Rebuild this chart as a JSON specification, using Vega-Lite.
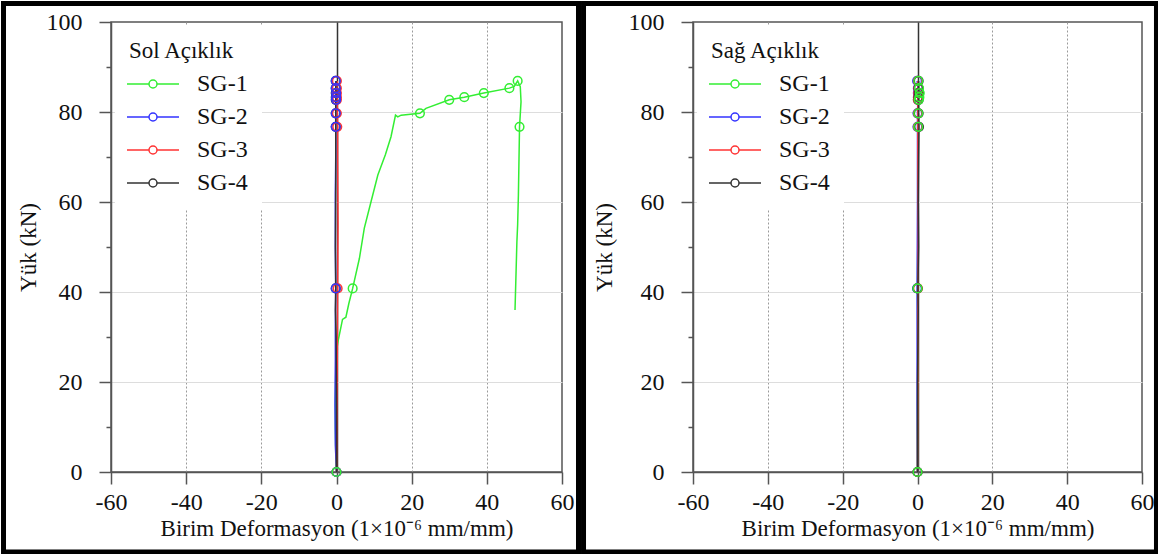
{
  "$schema": "https://vega.github.io/schema/vega-lite/v6.json",
  "padding": 0,
  "background": "white",
  "spacing": 131,
  "bounds": "flush",
  "resolve": {"scale": {"color": "independent"}, "legend": {"color": "independent"}},
  "datasets": {
    "left_lines": [
      {"s": "SG-1", "x": 0, "y": 0}, {"s": "SG-1", "x": -0.2, "y": 4}, {"s": "SG-1", "x": -0.3, "y": 10}, {"s": "SG-1", "x": -0.3, "y": 16}, {"s": "SG-1", "x": -0.2, "y": 22}, {"s": "SG-1", "x": 0, "y": 27}, {"s": "SG-1", "x": 0.5, "y": 29.4}, {"s": "SG-1", "x": 1.6, "y": 33.9}, {"s": "SG-1", "x": 2.5, "y": 34.4}, {"s": "SG-1", "x": 3.3, "y": 37.5}, {"s": "SG-1", "x": 4.3, "y": 40.8}, {"s": "SG-1", "x": 6.1, "y": 47.5}, {"s": "SG-1", "x": 7.4, "y": 54.2}, {"s": "SG-1", "x": 9.2, "y": 60.1}, {"s": "SG-1", "x": 11.0, "y": 66.0}, {"s": "SG-1", "x": 13.0, "y": 70.5}, {"s": "SG-1", "x": 14.5, "y": 74.5}, {"s": "SG-1", "x": 15.7, "y": 79.3}, {"s": "SG-1", "x": 16.3, "y": 78.9}, {"s": "SG-1", "x": 17.2, "y": 79.3}, {"s": "SG-1", "x": 22.2, "y": 79.7}, {"s": "SG-1", "x": 23.8, "y": 80.8}, {"s": "SG-1", "x": 30.0, "y": 82.7}, {"s": "SG-1", "x": 34.0, "y": 83.3}, {"s": "SG-1", "x": 39.2, "y": 84.2}, {"s": "SG-1", "x": 46.0, "y": 85.3}, {"s": "SG-1", "x": 47.3, "y": 85.7}, {"s": "SG-1", "x": 48.2, "y": 86.9}, {"s": "SG-1", "x": 48.9, "y": 85.6}, {"s": "SG-1", "x": 49.1, "y": 82.3}, {"s": "SG-1", "x": 48.7, "y": 76.7}, {"s": "SG-1", "x": 48.4, "y": 61.6}, {"s": "SG-1", "x": 48.2, "y": 55}, {"s": "SG-1", "x": 48.0, "y": 51.2}, {"s": "SG-1", "x": 47.5, "y": 36},
      {"s": "SG-2", "x": 0, "y": 0}, {"s": "SG-2", "x": -0.3, "y": 6}, {"s": "SG-2", "x": -0.4, "y": 15}, {"s": "SG-2", "x": -0.3, "y": 25}, {"s": "SG-2", "x": -0.3, "y": 33}, {"s": "SG-2", "x": -0.2, "y": 40.8}, {"s": "SG-2", "x": -0.3, "y": 50}, {"s": "SG-2", "x": -0.3, "y": 62}, {"s": "SG-2", "x": -0.2, "y": 70}, {"s": "SG-2", "x": -0.2, "y": 76.7}, {"s": "SG-2", "x": -0.2, "y": 79.7}, {"s": "SG-2", "x": -0.1, "y": 82.7}, {"s": "SG-2", "x": -0.2, "y": 83.3}, {"s": "SG-2", "x": -0.1, "y": 84.2}, {"s": "SG-2", "x": -0.2, "y": 85.3}, {"s": "SG-2", "x": -0.2, "y": 86.9},
      {"s": "SG-3", "x": 0, "y": 0}, {"s": "SG-3", "x": 0.1, "y": 12}, {"s": "SG-3", "x": 0.2, "y": 25}, {"s": "SG-3", "x": 0.3, "y": 40.8}, {"s": "SG-3", "x": 0.4, "y": 55}, {"s": "SG-3", "x": 0.3, "y": 70}, {"s": "SG-3", "x": 0.3, "y": 76.7}, {"s": "SG-3", "x": 0.2, "y": 79.7}, {"s": "SG-3", "x": 0.2, "y": 82.7}, {"s": "SG-3", "x": 0.1, "y": 83.3}, {"s": "SG-3", "x": 0.1, "y": 84.2}, {"s": "SG-3", "x": 0.1, "y": 85.3}, {"s": "SG-3", "x": 0.2, "y": 86.9},
      {"s": "SG-4", "x": 0, "y": 0}, {"s": "SG-4", "x": 0, "y": 15}, {"s": "SG-4", "x": -0.1, "y": 30}, {"s": "SG-4", "x": -0.3, "y": 36}, {"s": "SG-4", "x": -0.2, "y": 40.8}, {"s": "SG-4", "x": -0.3, "y": 50}, {"s": "SG-4", "x": -0.2, "y": 65}, {"s": "SG-4", "x": -0.2, "y": 76.7}, {"s": "SG-4", "x": -0.2, "y": 79.7}, {"s": "SG-4", "x": -0.2, "y": 82.7}, {"s": "SG-4", "x": -0.1, "y": 83.3}, {"s": "SG-4", "x": -0.1, "y": 84.2}, {"s": "SG-4", "x": -0.2, "y": 85.3}, {"s": "SG-4", "x": -0.1, "y": 86.9}
    ],
    "left_pts": [
      {"s": "SG-4", "x": 0, "y": 0}, {"s": "SG-4", "x": -0.2, "y": 40.8}, {"s": "SG-4", "x": -0.2, "y": 76.7}, {"s": "SG-4", "x": -0.2, "y": 79.7}, {"s": "SG-4", "x": -0.2, "y": 82.7}, {"s": "SG-4", "x": -0.2, "y": 83.3}, {"s": "SG-4", "x": -0.2, "y": 84.2}, {"s": "SG-4", "x": -0.2, "y": 85.3}, {"s": "SG-4", "x": -0.2, "y": 86.9},
      {"s": "SG-3", "x": 0, "y": 0}, {"s": "SG-3", "x": 0.3, "y": 40.8}, {"s": "SG-3", "x": 0.2, "y": 76.7}, {"s": "SG-3", "x": 0.1, "y": 79.7}, {"s": "SG-3", "x": 0.1, "y": 82.7}, {"s": "SG-3", "x": 0.1, "y": 83.3}, {"s": "SG-3", "x": 0.1, "y": 84.2}, {"s": "SG-3", "x": 0.1, "y": 85.3}, {"s": "SG-3", "x": 0.1, "y": 86.9},
      {"s": "SG-2", "x": 0, "y": 0}, {"s": "SG-2", "x": -0.2, "y": 40.8}, {"s": "SG-2", "x": -0.2, "y": 76.7}, {"s": "SG-2", "x": -0.2, "y": 79.7}, {"s": "SG-2", "x": -0.1, "y": 82.7}, {"s": "SG-2", "x": -0.1, "y": 83.3}, {"s": "SG-2", "x": -0.1, "y": 84.2}, {"s": "SG-2", "x": -0.2, "y": 85.3}, {"s": "SG-2", "x": -0.2, "y": 86.9},
      {"s": "SG-1", "x": 0, "y": 0}, {"s": "SG-1", "x": 4.3, "y": 40.8}, {"s": "SG-1", "x": 22.2, "y": 79.7}, {"s": "SG-1", "x": 30.0, "y": 82.7}, {"s": "SG-1", "x": 34.0, "y": 83.3}, {"s": "SG-1", "x": 39.2, "y": 84.2}, {"s": "SG-1", "x": 46.0, "y": 85.3}, {"s": "SG-1", "x": 48.2, "y": 86.9}, {"s": "SG-1", "x": 48.7, "y": 76.7}
    ],
    "right_lines": [
      {"s": "SG-1", "x": 0, "y": 0}, {"s": "SG-1", "x": 0, "y": 10}, {"s": "SG-1", "x": 0.1, "y": 25}, {"s": "SG-1", "x": 0, "y": 40.8}, {"s": "SG-1", "x": 0.1, "y": 55}, {"s": "SG-1", "x": 0.2, "y": 70}, {"s": "SG-1", "x": 0.2, "y": 76.7}, {"s": "SG-1", "x": 0.2, "y": 79.7}, {"s": "SG-1", "x": 0.3, "y": 82.7}, {"s": "SG-1", "x": 0.5, "y": 83.3}, {"s": "SG-1", "x": 0.6, "y": 84.2}, {"s": "SG-1", "x": 0.4, "y": 85.3}, {"s": "SG-1", "x": 0.2, "y": 86.9},
      {"s": "SG-2", "x": 0, "y": 0}, {"s": "SG-2", "x": -0.1, "y": 15}, {"s": "SG-2", "x": -0.1, "y": 30}, {"s": "SG-2", "x": -0.1, "y": 40.8}, {"s": "SG-2", "x": 0, "y": 60}, {"s": "SG-2", "x": 0, "y": 76.7}, {"s": "SG-2", "x": 0, "y": 79.7}, {"s": "SG-2", "x": 0.1, "y": 82.7}, {"s": "SG-2", "x": 0.1, "y": 83.3}, {"s": "SG-2", "x": 0.1, "y": 84.2}, {"s": "SG-2", "x": 0.1, "y": 85.3}, {"s": "SG-2", "x": -0.1, "y": 86.9},
      {"s": "SG-3", "x": 0, "y": 0}, {"s": "SG-3", "x": 0.1, "y": 20}, {"s": "SG-3", "x": 0.1, "y": 40.8}, {"s": "SG-3", "x": 0.2, "y": 52}, {"s": "SG-3", "x": 0.1, "y": 65}, {"s": "SG-3", "x": 0.1, "y": 76.7}, {"s": "SG-3", "x": 0.1, "y": 79.7}, {"s": "SG-3", "x": 0.1, "y": 82.7}, {"s": "SG-3", "x": 0.2, "y": 83.3}, {"s": "SG-3", "x": 0.2, "y": 84.2}, {"s": "SG-3", "x": 0.2, "y": 85.3}, {"s": "SG-3", "x": 0.1, "y": 86.9},
      {"s": "SG-4", "x": 0, "y": 0}, {"s": "SG-4", "x": 0, "y": 20}, {"s": "SG-4", "x": 0.2, "y": 36}, {"s": "SG-4", "x": 0.1, "y": 40.8}, {"s": "SG-4", "x": 0.3, "y": 50}, {"s": "SG-4", "x": 0.2, "y": 60}, {"s": "SG-4", "x": 0.3, "y": 70}, {"s": "SG-4", "x": 0.4, "y": 76.7}, {"s": "SG-4", "x": 0.3, "y": 79.7}, {"s": "SG-4", "x": 0.3, "y": 82.7}, {"s": "SG-4", "x": 0.3, "y": 83.3}, {"s": "SG-4", "x": 0.4, "y": 84.2}, {"s": "SG-4", "x": 0.3, "y": 85.3}, {"s": "SG-4", "x": 0.3, "y": 86.9}
    ],
    "right_pts": [
      {"s": "SG-2", "x": 0, "y": 0}, {"s": "SG-2", "x": -0.1, "y": 40.8}, {"s": "SG-2", "x": 0, "y": 76.7}, {"s": "SG-2", "x": 0, "y": 79.7}, {"s": "SG-2", "x": 0.1, "y": 82.7}, {"s": "SG-2", "x": 0.1, "y": 83.3}, {"s": "SG-2", "x": 0.1, "y": 84.2}, {"s": "SG-2", "x": 0.1, "y": 85.3}, {"s": "SG-2", "x": -0.1, "y": 86.9},
      {"s": "SG-3", "x": 0, "y": 0}, {"s": "SG-3", "x": 0.1, "y": 40.8}, {"s": "SG-3", "x": 0.1, "y": 76.7}, {"s": "SG-3", "x": 0.1, "y": 79.7}, {"s": "SG-3", "x": 0.1, "y": 82.7}, {"s": "SG-3", "x": 0.2, "y": 83.3}, {"s": "SG-3", "x": 0.2, "y": 84.2}, {"s": "SG-3", "x": 0.2, "y": 85.3}, {"s": "SG-3", "x": 0.1, "y": 86.9},
      {"s": "SG-4", "x": 0, "y": 0}, {"s": "SG-4", "x": 0, "y": 40.8}, {"s": "SG-4", "x": 0.4, "y": 76.7}, {"s": "SG-4", "x": 0.3, "y": 79.7}, {"s": "SG-4", "x": 0.3, "y": 82.7}, {"s": "SG-4", "x": 0.3, "y": 83.3}, {"s": "SG-4", "x": 0.4, "y": 84.2}, {"s": "SG-4", "x": 0.3, "y": 85.3}, {"s": "SG-4", "x": 0.3, "y": 86.9},
      {"s": "SG-1", "x": 0, "y": 0}, {"s": "SG-1", "x": 0, "y": 40.8}, {"s": "SG-1", "x": 0.2, "y": 76.7}, {"s": "SG-1", "x": 0.2, "y": 79.7}, {"s": "SG-1", "x": 0.3, "y": 82.7}, {"s": "SG-1", "x": 0.5, "y": 83.3}, {"s": "SG-1", "x": 0.6, "y": 84.2}, {"s": "SG-1", "x": 0.4, "y": 85.3}, {"s": "SG-1", "x": 0.2, "y": 86.9}
    ]
  },
  "hconcat": [
    {
      "width": 451,
      "height": 450,
      "layer": [
        {
          "data": {"values": [{}]},
          "mark": {"type": "rect", "clip": false, "fill": "white", "fillOpacity": 0, "stroke": "black", "strokeWidth": 5},
          "encoding": {
            "x": {"datum": -88.6, "type": "quantitative"},
            "x2": {"datum": 64.39},
            "y": {"datum": 104.11, "type": "quantitative"},
            "y2": {"datum": -17.78}
          }
        },
        {
          "data": {"name": "left_lines"},
          "mark": {"type": "line", "strokeWidth": 1.5},
          "encoding": {
            "x": {"field": "x", "type": "quantitative", "scale": {"domain": [-60, 60], "nice": false, "zero": false},
              "axis": {"title": "Birim Deformasyon (1×10⁻⁶ mm/mm)", "values": [-60, -50, -40, -30, -20, -10, 0, 10, 20, 30, 40, 50, 60],
                "labelExpr": "datum.value % 20 === 0 ? '' + datum.value : ''",
                "tickSize": {"condition": {"test": "datum.value % 20 !== 0", "value": 5}, "value": 12},
                "gridOpacity": {"condition": {"test": "datum.value % 20 !== 0 || abs(datum.value) === 60", "value": 0}, "value": 1},
                "gridDash": {"condition": {"test": "datum.value === 0", "value": []}, "value": [2, 2]},
                "gridColor": {"condition": {"test": "datum.value === 0", "value": "#333333"}, "value": "#9a9a9a"},
                "gridWidth": {"condition": {"test": "datum.value === 0", "value": 1.5}, "value": 1},
                "labelPadding": 6, "titlePadding": 3, "labelOverlap": false, "labelFlush": false}},
            "y": {"field": "y", "type": "quantitative", "scale": {"domain": [0, 100], "nice": false},
              "axis": {"title": "Yük (kN)", "values": [0, 10, 20, 30, 40, 50, 60, 70, 80, 90, 100],
                "labelExpr": "datum.value % 20 === 0 ? '' + datum.value : ''",
                "tickSize": {"condition": {"test": "datum.value % 20 !== 0", "value": 5}, "value": 12},
                "gridOpacity": {"condition": {"test": "datum.value % 20 !== 0 || datum.value === 0 || datum.value === 100", "value": 0}, "value": 1},
                "labelPadding": 17, "titlePadding": 6, "labelOverlap": false, "labelFlush": false}},
            "color": {"field": "s", "type": "nominal", "title": "Sol Açıklık",
              "scale": {"domain": ["SG-1", "SG-2", "SG-3", "SG-4"], "range": ["#33ee33", "#3333ff", "#ff3333", "#333333"]}},
            "order": {"value": null}
          }
        },
        {
          "data": {"name": "left_pts"},
          "mark": {"type": "point", "shape": "circle", "filled": false, "size": 75, "strokeWidth": 1.5, "opacity": 1},
          "encoding": {
            "x": {"field": "x", "type": "quantitative"},
            "y": {"field": "y", "type": "quantitative"},
            "color": {"field": "s", "type": "nominal"}
          }
        }
      ]
    },
    {
      "width": 449,
      "height": 450,
      "layer": [
        {
          "data": {"values": [{}]},
          "mark": {"type": "rect", "clip": false, "fill": "white", "fillOpacity": 0, "stroke": "black", "strokeWidth": 5},
          "encoding": {
            "x": {"datum": -89.26, "type": "quantitative"},
            "x2": {"datum": 63.87},
            "y": {"datum": 104.11, "type": "quantitative"},
            "y2": {"datum": -17.78}
          }
        },
        {
          "data": {"name": "right_lines"},
          "mark": {"type": "line", "strokeWidth": 1.5},
          "encoding": {
            "x": {"field": "x", "type": "quantitative", "scale": {"domain": [-60, 60], "nice": false, "zero": false},
              "axis": {"title": "Birim Deformasyon (1×10⁻⁶ mm/mm)", "values": [-60, -50, -40, -30, -20, -10, 0, 10, 20, 30, 40, 50, 60],
                "labelExpr": "datum.value % 20 === 0 ? '' + datum.value : ''",
                "tickSize": {"condition": {"test": "datum.value % 20 !== 0", "value": 5}, "value": 12},
                "gridOpacity": {"condition": {"test": "datum.value % 20 !== 0 || abs(datum.value) === 60", "value": 0}, "value": 1},
                "gridDash": {"condition": {"test": "datum.value === 0", "value": []}, "value": [2, 2]},
                "gridColor": {"condition": {"test": "datum.value === 0", "value": "#333333"}, "value": "#9a9a9a"},
                "gridWidth": {"condition": {"test": "datum.value === 0", "value": 1.5}, "value": 1},
                "labelPadding": 6, "titlePadding": 3, "labelOverlap": false, "labelFlush": false}},
            "y": {"field": "y", "type": "quantitative", "scale": {"domain": [0, 100], "nice": false},
              "axis": {"title": "Yük (kN)", "values": [0, 10, 20, 30, 40, 50, 60, 70, 80, 90, 100],
                "labelExpr": "datum.value % 20 === 0 ? '' + datum.value : ''",
                "tickSize": {"condition": {"test": "datum.value % 20 !== 0", "value": 5}, "value": 12},
                "gridOpacity": {"condition": {"test": "datum.value % 20 !== 0 || datum.value === 0 || datum.value === 100", "value": 0}, "value": 1},
                "labelPadding": 17, "titlePadding": 12, "labelOverlap": false, "labelFlush": false}},
            "color": {"field": "s", "type": "nominal", "title": "Sağ Açıklık",
              "scale": {"domain": ["SG-1", "SG-2", "SG-3", "SG-4"], "range": ["#33ee33", "#3333ff", "#ff3333", "#333333"]}},
            "order": {"value": null}
          }
        },
        {
          "data": {"name": "right_pts"},
          "mark": {"type": "point", "shape": "circle", "filled": false, "size": 75, "strokeWidth": 1.5, "opacity": 1},
          "encoding": {
            "x": {"field": "x", "type": "quantitative"},
            "y": {"field": "y", "type": "quantitative"},
            "color": {"field": "s", "type": "nominal"}
          }
        }
      ]
    }
  ],
  "config": {
    "font": "Liberation Serif",
    "view": {"stroke": "#555555", "strokeWidth": 1.5},
    "axis": {
      "domainColor": "#555555", "domainWidth": 1.5, "tickColor": "#555555", "tickWidth": 1.5,
      "labelFont": "Liberation Serif", "labelFontSize": 24, "labelColor": "#111111",
      "titleFont": "Liberation Serif", "titleFontSize": 23, "titleFontWeight": "normal", "titleColor": "#111111",
      "grid": true
    },
    "legend": {
      "orient": "top-left", "offset": 4, "padding": 14, "fillColor": "white", "strokeColor": null,
      "titleFont": "Liberation Serif", "titleFontSize": 23, "titleFontWeight": "normal", "titleColor": "#111111", "titlePadding": 9,
      "labelFont": "Liberation Serif", "labelFontSize": 24, "labelColor": "#111111", "labelOffset": 44,
      "symbolType": "M-3.5,0H2M4,0H9.5M4,0A1,1,0,1,1,2,0A1,1,0,1,1,4,0",
      "symbolSize": 64, "symbolStrokeWidth": 1.5, "symbolFillColor": "transparent", "rowPadding": 9
    }
  }
}
